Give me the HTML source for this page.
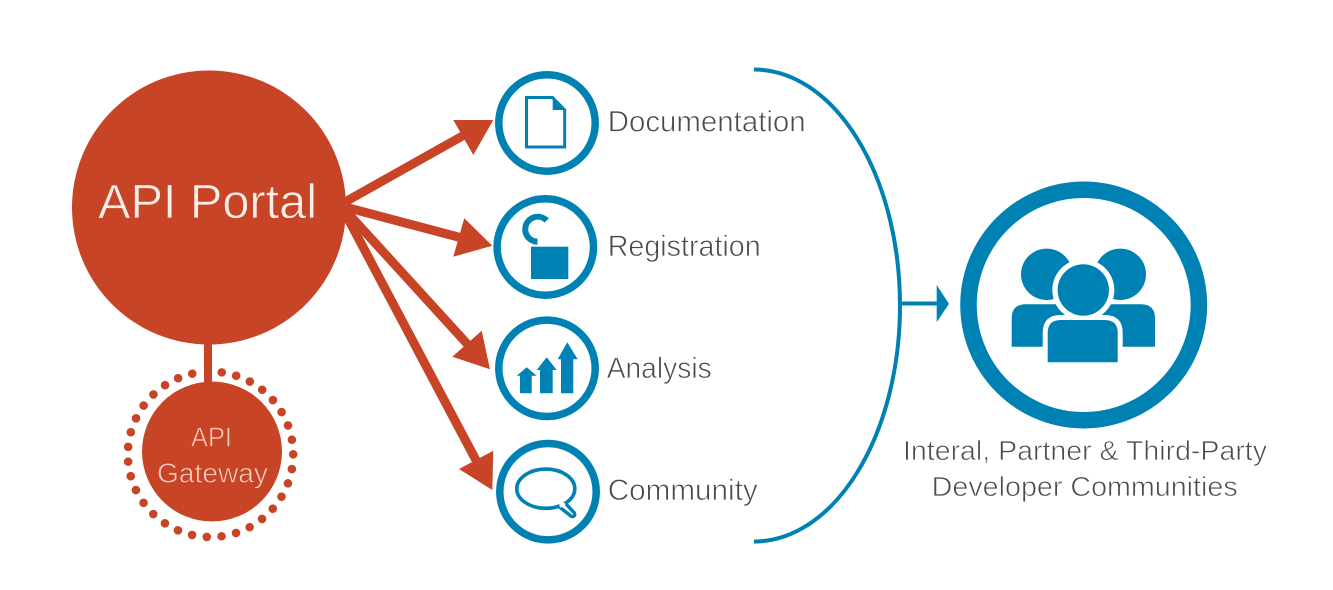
<!DOCTYPE html>
<html><head><meta charset="utf-8"><style>
html,body{margin:0;padding:0;background:#fff;width:1333px;height:590px;overflow:hidden}
svg{display:block}
text{font-family:"Liberation Sans",sans-serif}
.g{fill:#4a4a4a;font-size:30px;stroke:#fff;stroke-width:.7px}
.h{fill:#4a4a4a;font-size:28px;stroke:#fff;stroke-width:.7px}
.o{stroke:#c84426;stroke-width:.7px}
</style></head><body>
<svg width="1333" height="590" viewBox="0 0 1333 590" xmlns="http://www.w3.org/2000/svg">
<circle cx="210.5" cy="454.3" r="82.7" fill="none" stroke="#c84426" stroke-width="8.6" stroke-linecap="round" stroke-dasharray="0 14.846"/>
<g fill="#c84426" stroke="none">
<rect x="199" y="365" width="18" height="16" fill="#fff"/>
<circle cx="209" cy="207.5" r="137"/>
<rect x="204" y="340" width="8" height="48"/>
<circle cx="212" cy="451.5" r="70"/>
</g>
<g stroke="#c84426" stroke-width="9" fill="none">
<line x1="345" y1="202" x2="466" y2="134"/>
<line x1="345" y1="207" x2="462" y2="238"/>
<line x1="345" y1="210" x2="470" y2="347"/>
<line x1="345" y1="213" x2="478" y2="464"/>
</g>
<g fill="#c84426">
<polygon points="493.3,120 453.3,120 473.3,155"/>
<polygon points="492.3,245.7 464.3,218.3 453.3,256.7"/>
<polygon points="490,369.3 481.7,330.7 452.3,356.7"/>
<polygon points="492.3,490 493.3,450.7 459,469"/>
</g>
<g fill="none" stroke="#0081b4" stroke-width="7.5">
<circle cx="547" cy="123" r="48.2"/>
<circle cx="545.3" cy="247" r="48.2"/>
<circle cx="547" cy="368.3" r="48.2"/>
<circle cx="548" cy="491.7" r="48.2"/>
</g>
<path d="M526.5 97.5H552.5L564.7 110V147H526.5Z" fill="none" stroke="#0081b4" stroke-width="3"/>
<polygon points="552.7,97 566,110 552.7,110" fill="#0081b4"/>
<rect x="531" y="246.7" width="37.3" height="32.3" fill="#0081b4"/>
<path d="M546.7 220.5A12.5 12.5 0 1 0 537.5 241.7" fill="none" stroke="#0081b4" stroke-width="6"/>
<g fill="#0081b4">
<path d="M520 393.3V375.7H516.7L526.7 367.3L536.7 375.7H531.7V393.3Z"/>
<path d="M540 393.3V370H536.7L546.7 357.3L556.7 370H552.7V393.3Z"/>
<path d="M561 393.3V359.3H557.7L567.3 342.3L577.7 359.3H573.3V393.3Z"/>
</g>
<ellipse cx="545.8" cy="488.7" rx="29" ry="19.6" fill="none" stroke="#0081b4" stroke-width="3.6"/>
<path d="M557.5 505.5L571.5 516.5Q575.5 517 574.5 513L566 504" fill="#fff" stroke="#0081b4" stroke-width="3.4" stroke-linejoin="round"/>
<line x1="559.5" y1="505.5" x2="565" y2="504.5" stroke="#fff" stroke-width="4"/>
<circle cx="1083.7" cy="305" r="115.2" fill="none" stroke="#0081b4" stroke-width="16.5"/>
<g fill="#0081b4">
<circle cx="1046.7" cy="274.3" r="25.7"/>
<circle cx="1120.3" cy="274.3" r="25.7"/>
<path d="M1011.7 346.7V318.3Q1011.7 304.3 1025.7 304.3H1141Q1155 304.3 1155 318.3V346.7Z"/>
</g>
<circle cx="1083.3" cy="290" r="31" fill="#fff"/>
<path d="M1042.7 367V333Q1042.7 315 1060.7 315H1104.7Q1122.7 315 1122.7 333V367Z" fill="#fff"/>
<g fill="#0081b4">
<circle cx="1083.3" cy="290" r="25.7"/>
<path d="M1047.7 362.3V333Q1047.7 320 1060.7 320H1104.7Q1117.7 320 1117.7 333V362.3Z"/>
</g>
<path d="M754 69.5A146 236 0 0 1 754 541.5" fill="none" stroke="#0081b4" stroke-width="4"/>
<line x1="900" y1="303.5" x2="938" y2="303.5" stroke="#0081b4" stroke-width="4"/>
<polygon points="936.7,285 949,303.7 936.7,322.3" fill="#0081b4"/>
<text class="o" x="98" y="218" font-size="48" fill="#fbeee9" textLength="219" lengthAdjust="spacingAndGlyphs">API Portal</text>
<text class="o" x="191" y="446.7" font-size="28" fill="#f8d0c2" textLength="41" lengthAdjust="spacingAndGlyphs">API</text>
<text class="o" x="157" y="482.7" font-size="28" fill="#f8d0c2" textLength="111" lengthAdjust="spacingAndGlyphs">Gateway</text>
<text class="g" x="607.7" y="131.7" textLength="198" lengthAdjust="spacingAndGlyphs">Documentation</text>
<text class="g" x="607.7" y="256" textLength="153" lengthAdjust="spacingAndGlyphs">Registration</text>
<text class="g" x="606.7" y="378" textLength="105" lengthAdjust="spacingAndGlyphs">Analysis</text>
<text class="g" x="607.7" y="500" textLength="150" lengthAdjust="spacingAndGlyphs">Community</text>
<text class="h" x="903" y="460" textLength="364" lengthAdjust="spacingAndGlyphs">Interal, Partner &amp; Third-Party</text>
<text class="h" x="931.7" y="496" textLength="306" lengthAdjust="spacingAndGlyphs">Developer Communities</text>
</svg>
</body></html>
